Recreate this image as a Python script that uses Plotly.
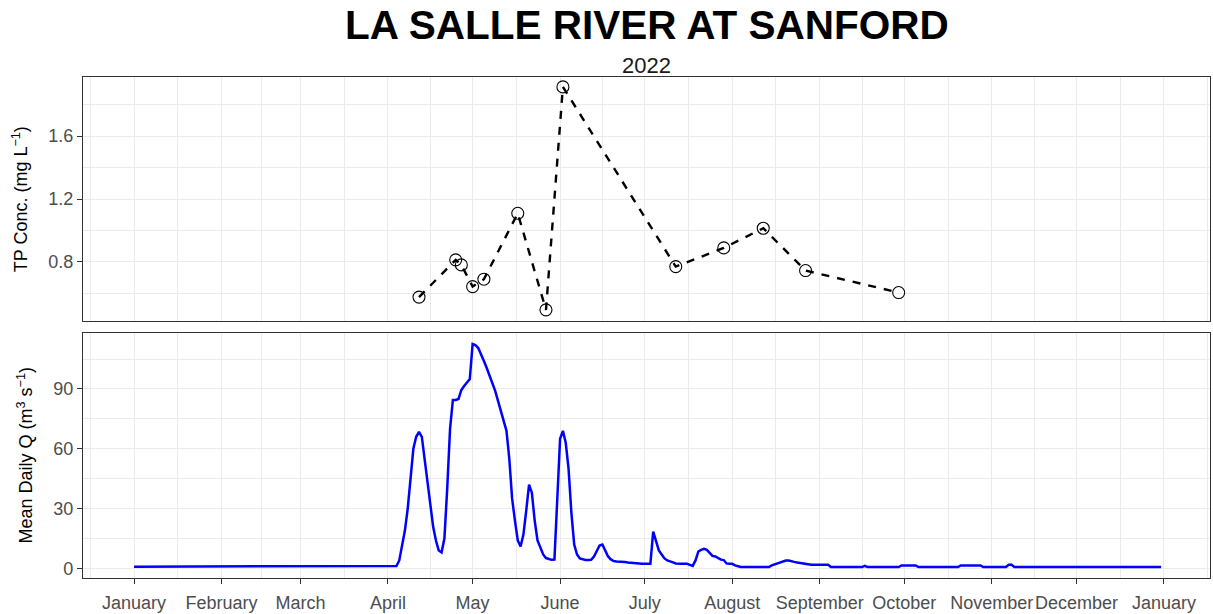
import datetime as dt
import plotly.graph_objects as go

# ---------------- data ----------------
title_text = "LA SALLE RIVER AT SANFORD"
subtitle_text = "2022"

tp_dates = ["2022-04-12", "2022-04-25", "2022-04-27", "2022-05-01", "2022-05-05",
            "2022-05-17", "2022-05-27", "2022-06-02", "2022-07-12", "2022-07-29",
            "2022-08-12", "2022-08-27", "2022-09-29"]
tp_conc = [0.576, 0.813, 0.781, 0.643, 0.690, 1.109, 0.495, 1.913, 0.770, 0.889,
           1.014, 0.745, 0.605]

# mean daily discharge (m3/s), one value per day, month by month
flow_jan = [0.9] * 31
flow_feb = [0.9] * 28
flow_mar = [0.9] * 31
flow_apr = [0.9, 0.9, 1.0, 1.2, 4, 11, 19, 30, 45, 60,
            66, 68.5, 66, 55, 42, 31, 21, 14, 9, 8,
            15, 40, 70, 84.5, 84.5, 85, 89.5, 91.5, 93, 95]
flow_may = [112.5, 112, 110.5, 107.5, 104, 100.5, 97, 93, 89, 84,
            79, 75, 69, 55, 35, 24, 14, 11, 17, 29,
            42, 38, 24, 14, 10, 7, 5.2, 4.6, 4.3, 4.4, 38]
flow_jun = [65, 69, 63, 50, 28, 12, 7, 5, 4.4, 4.2,
            4.2, 4.3, 6, 9, 11.5, 12, 9, 6, 4.5, 3.7,
            3.5, 3.5, 3.3, 3.2, 3.0, 2.8, 2.6, 2.4, 2.3, 2.3]
flow_jul = [2.3, 2.3, 2.3, 18.5, 14, 9, 7, 5, 4, 3.3,
            3, 2.5, 2.3, 2.3, 2.3, 2.3, 1.8, 1.3, 4, 8.5,
            9.3, 9.8, 9.3, 8, 6.3, 6, 5, 4.4, 4.2, 2.5, 2.3]
flow_aug = [2.3, 1.5, 1.0, 0.7, 0.7, 0.7, 0.7, 0.7, 0.7, 0.7,
            0.7, 0.7, 0.7, 0.7, 1.5, 2, 2.3, 3, 3.5, 4,
            4, 3.5, 3.3, 3, 2.7, 2.5, 2.3, 1.8, 1.8, 1.8, 1.8]
flow_sep = [1.8, 1.8, 1.8, 1.8, 0.7, 0.7, 0.7, 0.7, 0.7, 0.7,
            0.7, 0.7, 0.7, 0.7, 0.7, 0.7, 1.3, 0.7, 0.7, 0.7,
            0.7, 0.7, 0.7, 0.7, 0.7, 0.7, 0.7, 0.7, 0.7, 1.5]
flow_oct = [1.5, 1.5, 1.5, 1.5, 1.5, 0.7, 0.7, 0.7, 0.7, 0.7,
            0.7, 0.7, 0.7, 0.7, 0.7, 0.7, 0.7, 0.7, 0.7, 0.7,
            1.5, 1.5, 1.5, 1.5, 1.5, 1.5, 1.5, 1.5, 0.7, 0.7, 0.7]
flow_nov = [0.7, 0.7, 0.7, 0.7, 0.7, 0.7, 1.8, 1.8, 0.7, 0.7,
            0.7, 0.7, 0.7, 0.7, 0.7, 0.7, 0.7, 0.7, 0.7, 0.7,
            0.7, 0.7, 0.7, 0.7, 0.7, 0.7, 0.7, 0.7, 0.7, 0.7]
flow_dec = [0.7] * 31

month_ticks = ["2022-01-01", "2022-02-01", "2022-03-01", "2022-04-01", "2022-05-01",
               "2022-06-01", "2022-07-01", "2022-08-01", "2022-09-01", "2022-10-01",
               "2022-11-01", "2022-12-01", "2023-01-01"]
month_labels = ["January", "February", "March", "April", "May", "June", "July",
                "August", "September", "October", "November", "December", "January"]

tp_ticks = [0.8, 1.2, 1.6]
tp_minor = [0.6, 1.0, 1.4, 1.8]
q_ticks = [0, 30, 60, 90]
q_minor = [15, 45, 75, 105]

# ---------------- build ----------------
flow = (flow_jan + flow_feb + flow_mar + flow_apr + flow_may + flow_jun +
        flow_jul + flow_aug + flow_sep + flow_oct + flow_nov + flow_dec)
start = dt.date(2022, 1, 1)
flow_dates = [start + dt.timedelta(days=i) for i in range(len(flow))]

# minor x breaks halfway between month breaks (ggplot style)
ext = ["2021-12-01"] + month_ticks + ["2023-02-01"]
ext_d = [dt.datetime.fromisoformat(s) for s in ext]
x_minor = [(a + (b - a) / 2).strftime("%Y-%m-%d %H:%M") for a, b in zip(ext_d[:-1], ext_d[1:])]

FONT = "Liberation Sans, Arial, sans-serif"
GRID = "#EBEBEB"
BORDER = "#333333"
TICKFONT = dict(family=FONT, size=18, color="#4D4D4D")
xrange_ = ["2021-12-13 22:00", "2023-01-17 08:00"]

fig = go.Figure()
fig.add_trace(go.Scatter(
    x=tp_dates, y=tp_conc, mode="lines+markers",
    line=dict(color="black", width=2.4, dash="8px,8px"),
    marker=dict(symbol="circle-open", size=12, color="black", line=dict(width=1.1, color="black")),
    xaxis="x", yaxis="y", showlegend=False, hoverinfo="x+y"))
fig.add_trace(go.Scatter(
    x=flow_dates, y=flow, mode="lines",
    line=dict(color="#0000FF", width=2.5),
    xaxis="x2", yaxis="y2", showlegend=False))

common_x = dict(type="date", range=xrange_, showgrid=True, gridcolor=GRID, gridwidth=1.1,
                showline=True, linecolor=BORDER, linewidth=1.3, mirror=True, zeroline=False,
                tickvals=month_ticks, ticktext=month_labels, tickangle=0,
                minor=dict(tickvals=x_minor, showgrid=True, gridcolor=GRID, gridwidth=0.6, ticks=""),
                automargin=False)

fig.update_layout(
    width=1213, height=614, autosize=False,
    margin=dict(l=83, r=3, t=77, b=36),
    paper_bgcolor="white", plot_bgcolor="white",
    font=dict(family=FONT, size=18, color="black"),
    xaxis=dict(**common_x, domain=[0, 1], anchor="y", showticklabels=False, ticks="", matches="x2"),
    xaxis2=dict(**common_x, domain=[0, 1], anchor="y2", showticklabels=True, ticks="outside",
                ticklen=5, tickwidth=1.2, tickcolor=BORDER, tickfont=TICKFONT, ticklabelstandoff=3),
    yaxis=dict(domain=[0.512, 1.0], range=[0.421, 1.976], tickvals=tp_ticks,
               ticktext=[f"{v:.1f}" for v in tp_ticks],
               showgrid=True, gridcolor=GRID, gridwidth=1.1, zeroline=False,
               minor=dict(tickvals=tp_minor, showgrid=True, gridcolor=GRID, gridwidth=0.6, ticks=""),
               showline=True, linecolor=BORDER, linewidth=1.3, mirror=True,
               ticks="outside", ticklen=5, tickwidth=1.2, tickcolor=BORDER, tickfont=TICKFONT,
               title=dict(text="TP Conc. (mg L<sup>−1</sup>)", font=dict(family=FONT, size=18, color="black")),
               automargin=False),
    yaxis2=dict(domain=[0, 0.490], range=[-4.8, 118.3], tickvals=q_ticks,
                showgrid=True, gridcolor=GRID, gridwidth=1.1, zeroline=False,
                minor=dict(tickvals=q_minor, showgrid=True, gridcolor=GRID, gridwidth=0.6, ticks=""),
                showline=True, linecolor=BORDER, linewidth=1.3, mirror=True,
                ticks="outside", ticklen=5, tickwidth=1.2, tickcolor=BORDER, tickfont=TICKFONT,
                title=dict(text="Mean Daily Q (m<sup>3</sup> s<sup>−1</sup>)", font=dict(family=FONT, size=18, color="black")),
                automargin=False),
    annotations=[
        dict(text=f"<b>{title_text}</b>", xref="paper", yref="paper", x=0.5, y=1.1038,
             xanchor="center", yanchor="middle", showarrow=False,
             font=dict(family=FONT, size=40.5, color="black")),
        dict(text=subtitle_text, xref="paper", yref="paper", x=0.5, y=1.022,
             xanchor="center", yanchor="middle", showarrow=False,
             font=dict(family=FONT, size=22, color="#1a1a1a")),
    ],
)

css = ("var s=document.createElement('style');"
       "s.innerHTML='html,body{margin:0;padding:0;overflow:hidden;}';"
       "document.head.appendChild(s);")
fig.write_html("out.html", config={"responsive": False, "displayModeBar": False}, post_script=css,
               default_width="1213px", default_height="614px")
